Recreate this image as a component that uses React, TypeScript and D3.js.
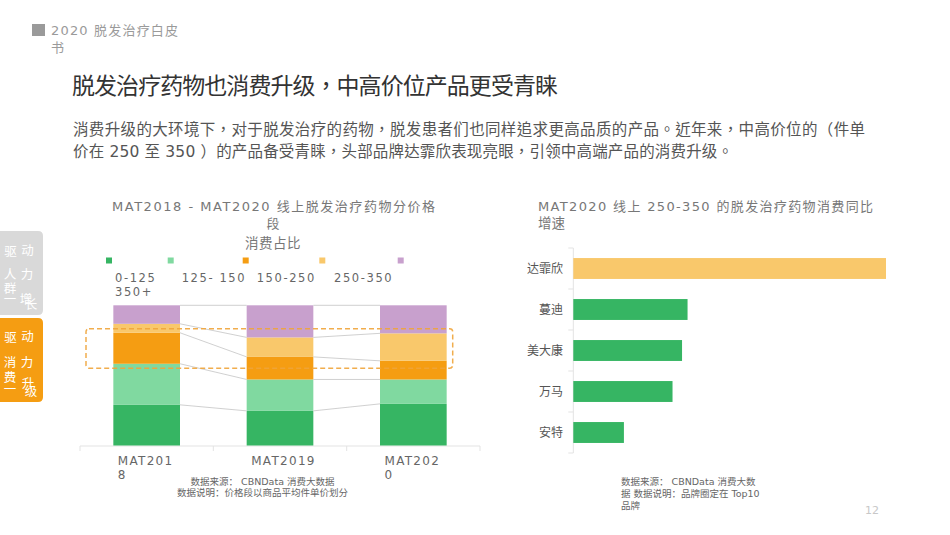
import React from "react";
import * as d3 from "d3";

const FONT = "'DejaVu Sans', 'Noto Sans CJK SC', sans-serif";
const FONT_TC = "'DejaVu Sans', 'Noto Sans CJK TC', 'Noto Sans CJK SC', sans-serif";

// Left chart data (share of consumption, %)
const periods = ["MAT2018", "MAT2019", "MAT2020"];
const periodLabelLines = [["MAT201", "8"], ["MAT2019"], ["MAT202", "0"]];
const priceBands = ["0-125", "125-150", "150-250", "250-350", "350+"];
const share0to125 = [29.0, 24.7, 29.7];
const share125to150 = [29.3, 22.4, 17.4];
const share150to250 = [22.1, 16.1, 13.3];
const share250to350 = [6.4, 13.9, 19.6];
const share350plus = [13.2, 22.9, 20.0];
const bandColors = ["#36b563", "#80d9a0", "#f59d12", "#f9c86b", "#c8a0cd"];

// Right chart data (YoY growth, %)
const brands = ["达霏欣", "蔓迪", "美大康", "万马", "安特"];
const brandGrowth = [624, 228, 217, 198, 101];
const brandColors = ["#f9c86b", "#36b563", "#36b563", "#36b563", "#36b563"];

export default function App() {
  // ---------- left stacked chart ----------
  const rows = periods.map((p, i) => ({
    period: p,
    "0-125": share0to125[i],
    "125-150": share125to150[i],
    "150-250": share150to250[i],
    "250-350": share250to350[i],
    "350+": share350plus[i],
  }));
  const stacked = d3.stack<any>().keys(priceBands)(rows);
  const x = d3.scaleBand<string>().domain(periods).range([80, 480]).paddingInner(0.5).paddingOuter(0.25);
  const y = d3.scaleLinear().domain([0, 100]).range([445.5, 305.3]);
  const bw = x.bandwidth();

  const connectors: { x1: number; y1: number; x2: number; y2: number }[] = [];
  stacked.forEach((s) => {
    for (let i = 0; i < periods.length - 1; i++) {
      connectors.push({
        x1: (x(periods[i]) as number) + bw,
        y1: y(s[i][1]),
        x2: x(periods[i + 1]) as number,
        y2: y(s[i + 1][1]),
      });
    }
  });

  // ---------- right bar chart ----------
  const yb = d3.scaleBand<string>().domain(brands).range([248, 453]).paddingInner(0.49).paddingOuter(0.245);
  const xb = d3.scaleLinear().domain([0, 624]).range([573.3, 886]);
  const step = yb.step();
  const tickYs = brands.map((b) => (yb(b) as number) - (step - yb.bandwidth()) / 2).concat([453]);

  const legendX = [109, 170.7, 245.7, 322.3, 400.7];
  const legendLabelPos = [
    { t: "0-125", x: 115, y: 278 },
    { t: "125- 150", x: 181.7, y: 278 },
    { t: "150-250", x: 256.7, y: 278 },
    { t: "250-350", x: 334, y: 278 },
    { t: "350+", x: 115, y: 292 },
  ];

  const grayTabChars = [
    { c: "驱", x: 10.5, y: 251 }, { c: "动", x: 27.5, y: 250 },
    { c: "人", x: 10, y: 274 }, { c: "力", x: 27, y: 274 },
    { c: "群", x: 10, y: 288 }, { c: "一", x: 10, y: 299 },
    { c: "增", x: 26, y: 299 }, { c: "长", x: 31, y: 304 },
  ];
  const orangeTabChars = [
    { c: "驱", x: 10.5, y: 337 }, { c: "动", x: 27.5, y: 336 },
    { c: "消", x: 10, y: 362 }, { c: "力", x: 27, y: 362 },
    { c: "费", x: 10, y: 377 }, { c: "一", x: 10, y: 389 },
    { c: "升", x: 28, y: 383 }, { c: "级", x: 31, y: 391 },
  ];

  return (
    <div style={{ position: "fixed", left: 0, top: 0, width: 950, height: 535, background: "#fff" }}>
      <svg width={950} height={535} style={{ display: "block", fontFamily: FONT }}>
        <rect x={0} y={0} width={950} height={535} fill="#fff" />
        {/* header */}
        <rect x={32} y={24} width={13} height={12} fill="#9a9a9a" />
        <text x={51} y={30} dominantBaseline="central" fontSize={13} fill="#9a9a9a" textLength={127} lengthAdjust="spacing">2020  脱发治疗白皮</text>
        <text x={51} y={47} dominantBaseline="central" fontSize={13} fill="#9a9a9a">书</text>

        {/* title */}
        <text x={72} y={86} dominantBaseline="central" fontSize={23} fill="#333" fontFamily={FONT_TC} textLength={486} lengthAdjust="spacing">脱发治疗药物也消费升级，中高价位产品更受青睐</text>
        <text x={73} y={130} dominantBaseline="central" fontSize={15.5} fill="#555" fontFamily={FONT_TC} textLength={792} lengthAdjust="spacing">消费升级的大环境下，对于脱发治疗的药物，脱发患者们也同样追求更高品质的产品。近年来，中高价位的（件单</text>
        <text x={73} y={152} dominantBaseline="central" fontSize={15.5} fill="#555" fontFamily={FONT_TC} textLength={660} lengthAdjust="spacing">价在 250 至 350 ）的产品备受青睐，头部品牌达霏欣表现亮眼，引领中高端产品的消费升级。</text>

        {/* side tabs */}
        <path d="M0,231 H38 Q43,231 43,236 V310 Q43,315 38,315 H0 Z" fill="#d9d9d9" />
        <path d="M0,318 H38 Q43,318 43,323 V397 Q43,402 38,402 H0 Z" fill="#f59d12" />
        {grayTabChars.concat(orangeTabChars).map((d, i) => (
          <text key={"tc" + i} x={d.x} y={d.y} textAnchor="middle" dominantBaseline="central" fontSize={12.5} fill="#fff">{d.c}</text>
        ))}

        {/* left chart title */}
        <text x={112} y={206} dominantBaseline="central" fontSize={13} fill="#777" textLength={323} lengthAdjust="spacing">MAT2018 -  MAT2020  线上脱发治疗药物分价格</text>
        <text x={273} y={223} textAnchor="middle" dominantBaseline="central" fontSize={13} fill="#777">段</text>
        <text x={273} y={243} textAnchor="middle" dominantBaseline="central" fontSize={13.5} fill="#777" letterSpacing={0.5}>消费占比</text>

        {/* legend */}
        {legendX.map((lx, i) => (
          <rect key={"lg" + i} x={lx - 3} y={257.5} width={6} height={6} fill={bandColors[i]} />
        ))}
        {legendLabelPos.map((d, i) => (
          <text key={"ll" + i} x={d.x} y={d.y} dominantBaseline="central" fontSize={11.5} fill="#666" letterSpacing={1.6}>{d.t}</text>
        ))}

        {/* x axis */}
        <line x1={80} x2={480} y1={446} y2={446} stroke="#e3e3e3" />
        {[80, 213.3, 346.7, 480].map((tx, i) => (
          <line key={"xt" + i} x1={tx} x2={tx} y1={446} y2={451} stroke="#e3e3e3" />
        ))}

        {/* stacked bars */}
        {stacked.map((s, si) =>
          s.map((d, i) => (
            <rect key={"b" + si + "-" + i} x={x(periods[i]) as number} y={y(d[1])} width={bw} height={y(d[0]) - y(d[1])} fill={bandColors[si]} />
          ))
        )}
        {connectors.map((c, i) => (
          <line key={"cn" + i} x1={c.x1} y1={c.y1} x2={c.x2} y2={c.y2} stroke="#c4c4c4" strokeWidth={0.8} />
        ))}

        {/* dashed highlight */}
        <rect x={86} y={328.7} width={366.7} height={39.6} rx={3} fill="none" stroke="#f0a43a" strokeWidth={1.5} strokeDasharray="5,3" opacity={0.9} />

        {/* x labels */}
        {periodLabelLines.map((lines, i) =>
          lines.map((ln, j) => (
            <text key={"xl" + i + j} x={(x(periods[i]) as number) + 4.5} y={461 + j * 14} dominantBaseline="central" fontSize={12} fill="#666" letterSpacing={1.3}>{ln}</text>
          ))
        )}

        {/* left source */}
        <text x={262.5} y={481} textAnchor="middle" dominantBaseline="central" fontSize={9.5} fill="#666">数据来源： CBNData 消费大数据</text>
        <text x={262.5} y={492.5} textAnchor="middle" dominantBaseline="central" fontSize={9.5} fill="#666">数据说明：价格段以商品平均件单价划分</text>

        {/* right chart title */}
        <text x={538} y={206} dominantBaseline="central" fontSize={13} fill="#777" textLength={335} lengthAdjust="spacing">MAT2020  线上 250-350 的脱发治疗药物消费同比</text>
        <text x={538} y={223} dominantBaseline="central" fontSize={13.5} fill="#777">增速</text>

        {/* right axis */}
        <line x1={573.3} x2={573.3} y1={248} y2={453} stroke="#e3e3e3" />
        {tickYs.map((ty, i) => (
          <line key={"yt" + i} x1={568.3} x2={573.3} y1={ty} y2={ty} stroke="#e3e3e3" />
        ))}
        {brands.map((b, i) => (
          <g key={"br" + i}>
            <rect x={xb(0)} y={yb(b) as number} width={xb(brandGrowth[i]) - xb(0)} height={yb.bandwidth()} fill={brandColors[i]} />
            <text x={563} y={(yb(b) as number) + yb.bandwidth() / 2} textAnchor="end" dominantBaseline="central" fontSize={12} fill="#555">{b}</text>
          </g>
        ))}

        {/* right source */}
        <text x={621} y={481} dominantBaseline="central" fontSize={9.5} fill="#666">数据来源： CBNData 消费大数</text>
        <text x={621} y={493} dominantBaseline="central" fontSize={9.5} fill="#666">据 数据说明：品牌圈定在 Top10</text>
        <text x={621} y={505.5} dominantBaseline="central" fontSize={9.5} fill="#666">品牌</text>

        {/* page number */}
        <text x={872} y={510} textAnchor="middle" dominantBaseline="central" fontSize={11} fill="#c8c8c8">12</text>
      </svg>
    </div>
  );
}
